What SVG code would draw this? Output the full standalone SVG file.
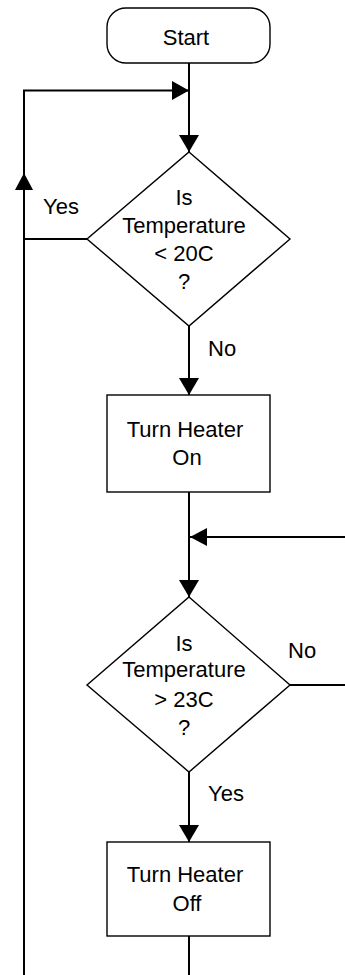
<svg xmlns="http://www.w3.org/2000/svg" width="345" height="975" viewBox="0 0 345 975">
<style>
.shape{fill:#fff;stroke:#000;stroke-width:1.4}
.t{font-family:"Liberation Sans",Arial,sans-serif;font-size:22px;fill:#000;text-anchor:middle}
.l{font-family:"Liberation Sans",Arial,sans-serif;font-size:22px;fill:#000}
.c{fill:none;stroke:#000;stroke-width:2}
.ah{fill:#000}
</style>
<rect width="345" height="975" fill="#fff"/>
<g id="connectors">
<path class="c" d="M189,63 V152"/>
<path class="c" d="M24,975 V90.5 H189"/>
<path class="c" d="M87,239 H24"/>
<path class="c" d="M189,326 V395"/>
<path class="c" d="M189,492 V597"/>
<path class="c" d="M345,537 H189"/>
<path class="c" d="M290,685 H345"/>
<path class="c" d="M189,772 V842"/>
<path class="c" d="M189,936 V975"/>
<polygon class="ah" points="179,135 199,135 189,152"/>
<polygon class="ah" points="172,81 172,100 189,90.5"/>
<polygon class="ah" points="15,190 33,190 24,173"/>
<polygon class="ah" points="179,378 199,378 189,395"/>
<polygon class="ah" points="207,528 207,546 190,537"/>
<polygon class="ah" points="179,580 199,580 189,597"/>
<polygon class="ah" points="179,825 199,825 189,842"/>
<text class="l" x="43" y="214">Yes</text>
<text class="l" x="208" y="356">No</text>
<text class="l" x="288" y="658">No</text>
<text class="l" x="208" y="801">Yes</text>
</g>
<g id="start">
<rect class="shape" x="107" y="8" width="163" height="55" rx="19" ry="19"/>
<text class="t" x="186" y="45">Start</text>
</g>
<g id="decision1">
<polygon class="shape" points="189,152 290,239 189,326 87,239"/>
<text class="t" x="184" y="205">Is</text>
<text class="t" x="184" y="233">Temperature</text>
<text class="t" x="184" y="261">&lt; 20C</text>
<text class="t" x="184" y="289">?</text>
</g>
<g id="heater-on">
<rect class="shape" x="107" y="395" width="163" height="97"/>
<text class="t" x="185" y="437">Turn Heater</text>
<text class="t" x="187" y="465">On</text>
</g>
<g id="decision2">
<polygon class="shape" points="189,597 290,685 189,772 87,685"/>
<text class="t" x="184" y="651">Is</text>
<text class="t" x="184" y="677">Temperature</text>
<text class="t" x="184" y="707">&gt; 23C</text>
<text class="t" x="184" y="735">?</text>
</g>
<g id="heater-off">
<rect class="shape" x="107" y="842" width="163" height="94"/>
<text class="t" x="185" y="882">Turn Heater</text>
<text class="t" x="187" y="911">Off</text>
</g>
</svg>
